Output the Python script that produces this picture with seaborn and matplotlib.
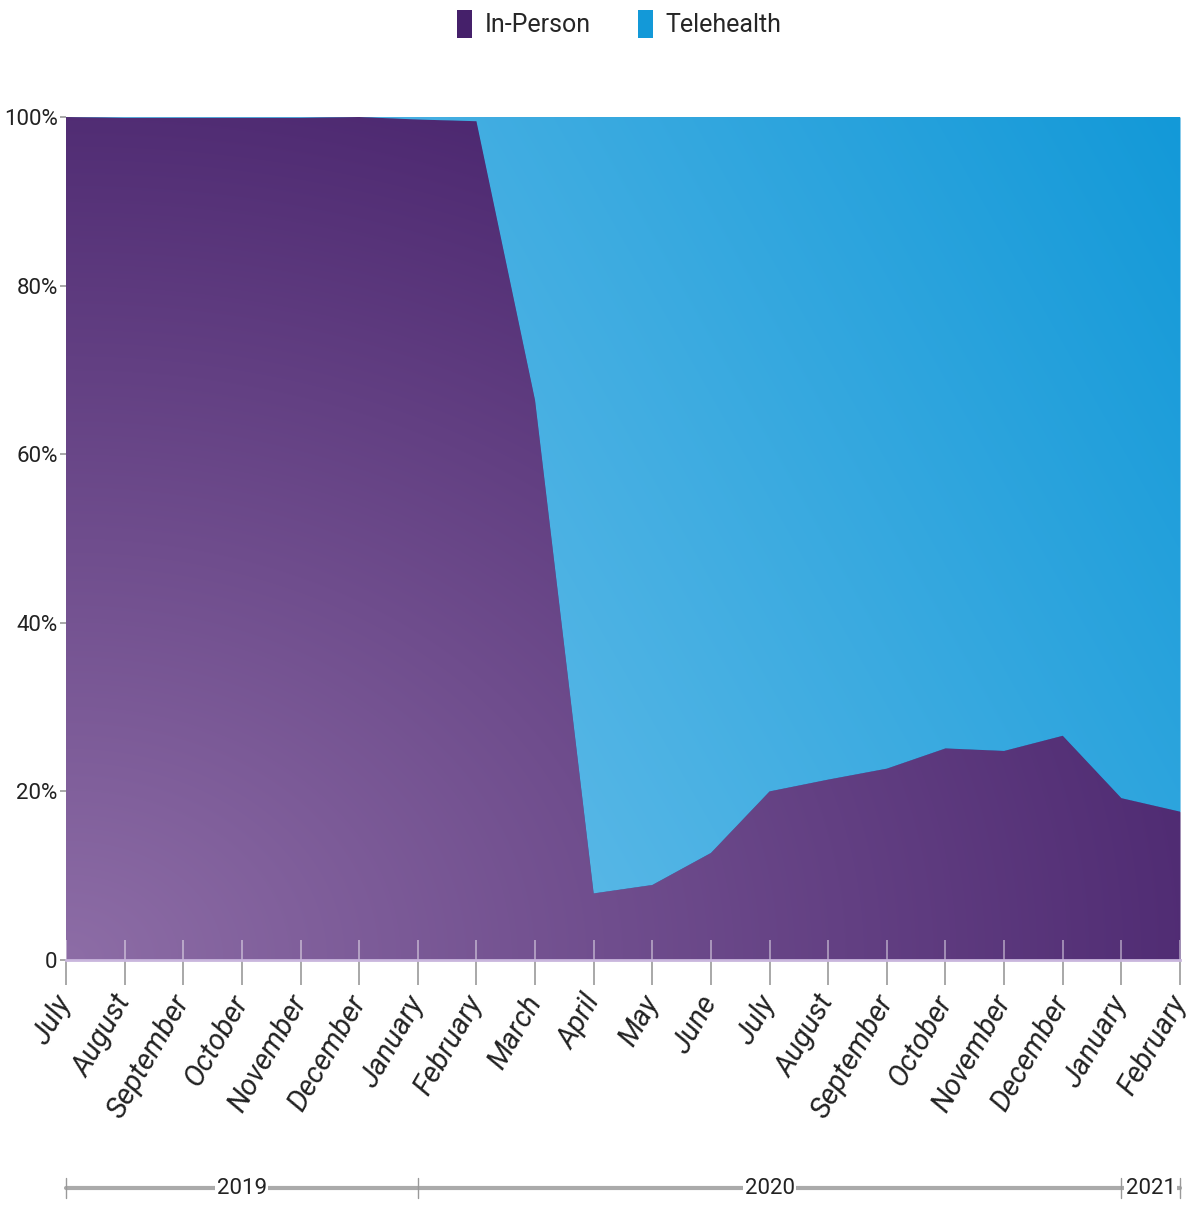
import numpy as np
import pandas as pd
import matplotlib
matplotlib.use('Agg')
import matplotlib.pyplot as plt
import matplotlib.colors as mcolors
import matplotlib.transforms as mtransforms
from matplotlib.patches import Patch
import seaborn as sns

# ==================== data ====================
months = ['July', 'August', 'September', 'October', 'November', 'December',
          'January', 'February', 'March', 'April', 'May', 'June', 'July',
          'August', 'September', 'October', 'November', 'December',
          'January', 'February']
in_person = [100, 99.9, 99.9, 99.9, 99.9, 100, 99.7, 99.5, 66.4, 7.9,
             8.9, 12.7, 20.0, 21.4, 22.7, 25.1, 24.8, 26.6, 19.2, 17.6]
telehealth = [100 - v for v in in_person]
years = ['2019', '2020', '2021']
year_start = [0, 6, 18]     # index of first month in each year
year_end = [6, 18, 19]
y_ticks = [0, 20, 40, 60, 80, 100]
y_tick_labels = ['0', '20%', '40%', '60%', '80%', '100%']
series = ['In-Person', 'Telehealth']

PURPLE_LIGHT, PURPLE_DARK = '#8d6da6', '#45206a'
BLUE_LIGHT, BLUE_DARK = '#5cb9e7', '#1399d8'

df = pd.DataFrame({'idx': np.arange(len(months)), 'month': months,
                   'In-Person': in_person, 'Telehealth': telehealth})

# ==================== style ====================
sns.set_theme(style='white')
plt.rcParams['font.family'] = ['Roboto', 'DejaVu Sans']

fig = plt.figure(figsize=(11.91, 12.05), dpi=100)
ax = fig.add_axes([66 / 1191, 1 - 960 / 1205, (1180 - 66) / 1191, (960 - 117) / 1205])

# stacked areas (solid fallback), then gradient images clipped to them
polys = ax.stackplot(df['idx'], df['In-Person'], df['Telehealth'],
                     colors=[PURPLE_DARK, BLUE_DARK], lw=0)
sns.lineplot(data=df, x='idx', y='In-Person', color=PURPLE_DARK, lw=0.8, ax=ax)

u, v = np.meshgrid(np.linspace(0, 1, 400), np.linspace(0, 1, 300))


def gradient(c_light, c_dark, t):
    a = np.array(mcolors.to_rgb(c_light))
    b = np.array(mcolors.to_rgb(c_dark))
    t = np.clip(t, 0, 1)[..., None]
    return a * (1 - t) + b * t


t_purple = np.sqrt(u ** 2 + v ** 2) / 1.2
t_blue = (0.7 * u + 0.3 * v - 0.3) / 0.7
for poly, img in zip(polys, [gradient(PURPLE_LIGHT, PURPLE_DARK, t_purple),
                             gradient(BLUE_LIGHT, BLUE_DARK, t_blue)]):
    im = ax.imshow(img, extent=[0, len(months) - 1, 0, 100], origin='lower',
                   aspect='auto', zorder=2, interpolation='bilinear')
    im.set_clip_path(poly.get_paths()[0], ax.transData)

# little light tick marks inside the area
ax.vlines(df['idx'], 0, 2.4, color='white', alpha=0.5, lw=1.2, zorder=3)

ax.set_xlim(0, len(months) - 1)
ax.set_ylim(0, 100)
ax.set_xlabel('')
ax.set_ylabel('')
for s in ['top', 'right', 'left']:
    ax.spines[s].set_visible(False)
ax.spines['bottom'].set_color('#c9b6dd')
ax.spines['bottom'].set_linewidth(2)
ax.spines['bottom'].set_zorder(4)

ax.set_xticks(df['idx'])
ax.set_xticklabels(months, rotation=60, ha='right', va='center',
                   rotation_mode='anchor', fontstyle='italic', fontsize=21,
                   color='#222222')
ax.tick_params(axis='x', bottom=True, direction='out', length=18, width=1.2,
               color='#9a9a9a', pad=9)
ax.set_yticks(y_ticks)
ax.set_yticklabels(y_tick_labels, fontsize=16, color='#222222')
ax.tick_params(axis='y', left=True, direction='out', length=4, width=1.2,
               color='#9a9a9a', pad=2)

# year brackets below the month labels
trans = mtransforms.blended_transform_factory(ax.transData, ax.transAxes)
yb = -(1188 - 960) / (960 - 117)
ax.plot([0, len(months) - 1], [yb, yb], transform=trans, color='#aaaaaa',
        lw=3, clip_on=False)
for x in sorted(set(year_start + year_end)):
    ax.plot([x, x], [yb - 0.012, yb + 0.012], transform=trans,
            color='#999999', lw=1, clip_on=False)
for yr, a, b in zip(years, year_start, year_end):
    ax.text((a + b) / 2, yb, yr, transform=trans, ha='center', va='center',
            fontsize=16, color='#222222',
            bbox=dict(facecolor='white', edgecolor='none', pad=1))

# legend at top
handles = [Patch(facecolor=PURPLE_DARK, edgecolor='none'),
           Patch(facecolor=BLUE_DARK, edgecolor='none')]
fig.legend(handles, series, loc='upper center', bbox_to_anchor=(0.52, 1.01),
           ncol=2, frameon=False, fontsize=18, handlelength=0.6,
           handleheight=1.3, handletextpad=0.5, columnspacing=1.9)

fig.savefig('out.png', dpi=100)
